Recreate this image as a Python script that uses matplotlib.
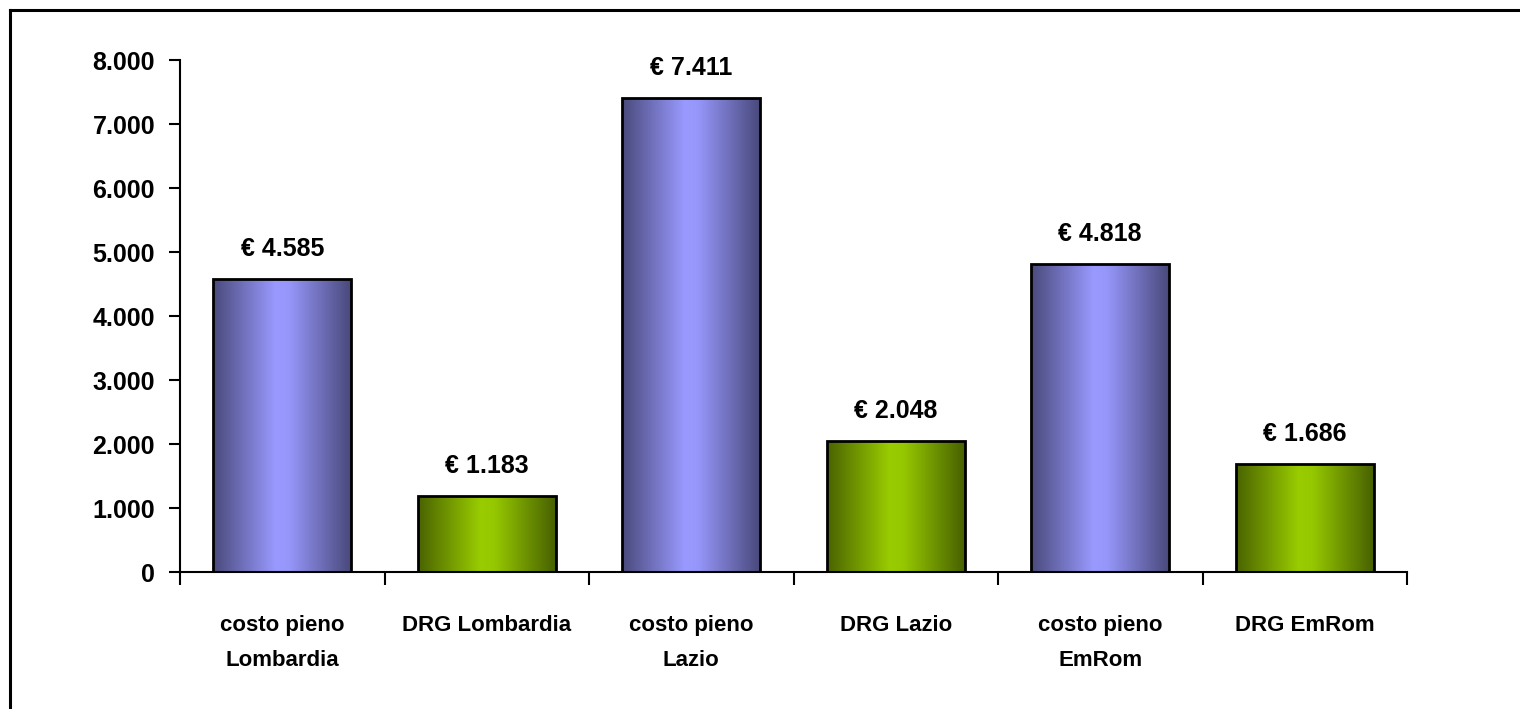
import numpy as np
import matplotlib
matplotlib.use("Agg")
import matplotlib.pyplot as plt
from matplotlib.colors import LinearSegmentedColormap
from matplotlib.lines import Line2D

plt.rcParams['font.family'] = ['Liberation Sans', 'DejaVu Sans']
plt.rcParams['font.weight'] = 'bold'

categories = ["costo pieno\nLombardia", "DRG Lombardia", "costo pieno\nLazio",
              "DRG Lazio", "costo pieno\nEmRom", "DRG EmRom"]
values = [4585, 1183, 7411, 2048, 4818, 1686]
value_labels = ["€ 4.585", "€ 1.183", "€ 7.411", "€ 2.048", "€ 4.818", "€ 1.686"]
kinds = ["costo", "drg", "costo", "drg", "costo", "drg"]
y_ticks = [0, 1000, 2000, 3000, 4000, 5000, 6000, 7000, 8000]
y_tick_labels = ["0", "1.000", "2.000", "3.000", "4.000", "5.000", "6.000", "7.000", "8.000"]

gradients = {
    "costo": LinearSegmentedColormap.from_list(
        "costo", [(0.0, "#4a4a7c"), (0.45, "#9999ff"), (0.55, "#9696fa"), (1.0, "#48487a")]),
    "drg": LinearSegmentedColormap.from_list(
        "drg", [(0.0, "#4a6300"), (0.45, "#99cc00"), (0.55, "#96c800"), (1.0, "#465f00")]),
}

fig = plt.figure(figsize=(15.2, 7.09), dpi=100)
ax = fig.add_axes([180 / 1520, 1 - 572 / 709, (1407 - 180) / 1520, (572 - 60) / 709])

x = np.arange(len(categories))
width = 0.675
bars = ax.bar(x, values, width=width, facecolor="none", edgecolor="black",
              linewidth=2.0, zorder=3)

grad = np.linspace(0, 1, 256).reshape(1, -1)
for bar, kind in zip(bars, kinds):
    x0, y0 = bar.get_x(), bar.get_y()
    w, h = bar.get_width(), bar.get_height()
    im = ax.imshow(grad, cmap=gradients[kind], aspect="auto",
                   extent=[x0, x0 + w, y0, y0 + h], zorder=2, interpolation="bicubic")
    im.set_clip_path(bar)

for xi, v, lab in zip(x, values, value_labels):
    ax.annotate(lab, (xi, v), xytext=(0, 13), textcoords="offset points",
                ha="center", va="bottom", fontsize=18, fontweight="bold")

ax.set_xlim(-0.5, len(categories) - 0.5)
ax.set_ylim(0, 8000)
ax.set_yticks(y_ticks)
ax.set_yticklabels(y_tick_labels, fontsize=18, fontweight="bold")
ax.set_xticks(x)
ax.set_xticklabels(categories, fontsize=16, fontweight="bold", linespacing=1.9)
ax.set_xticks(np.arange(-0.5, len(categories)), minor=True)
ax.tick_params(axis="x", which="major", length=0, pad=31)
ax.tick_params(axis="x", which="minor", length=9, width=1.5, direction="out")
ax.tick_params(axis="y", length=8, width=1.5, direction="out", pad=10)

for side in ("top", "right"):
    ax.spines[side].set_visible(False)
ax.spines["left"].set_linewidth(1.5)
ax.spines["bottom"].set_linewidth(1.5)

# outer frame: top and left edges of the chart area
fig.add_artist(Line2D([10 / 1520, 1.0], [1 - 10 / 709, 1 - 10 / 709],
                      transform=fig.transFigure, color="black", linewidth=2.2))
fig.add_artist(Line2D([10 / 1520, 10 / 1520], [0.0, 1 - 10 / 709],
                      transform=fig.transFigure, color="black", linewidth=2.2))

fig.savefig("out.png", dpi=100, facecolor="white")
